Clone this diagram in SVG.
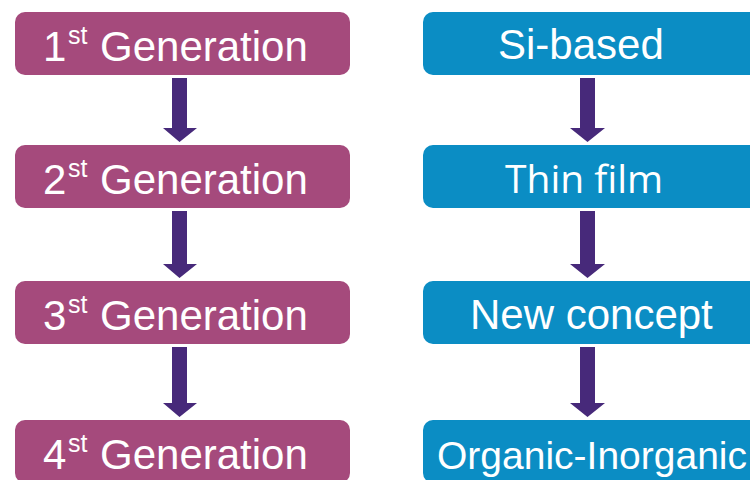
<svg xmlns="http://www.w3.org/2000/svg" width="750" height="480" viewBox="0 0 750 480">
<style>
.gen rect{fill:#A54A7C}
.tech rect{fill:#0B8DC4}
text{fill:#fff;font-family:"Liberation Sans",Arial,sans-serif;font-size:42px}
.sup{font-size:25px}
.arrow{fill:#47297A}
</style>
<rect width="750" height="480" fill="#fff"/>
<g id="gen1" class="gen"><rect x="15" y="12" width="335" height="63" rx="10"/><text><tspan x="43" y="61">1</tspan><tspan class="sup" x="68" y="44">st</tspan><tspan x="100" y="61">Generation</tspan></text></g>
<g id="gen2" class="gen"><rect x="15" y="145" width="335" height="63" rx="10"/><text><tspan x="43" y="194">2</tspan><tspan class="sup" x="68" y="177">st</tspan><tspan x="100" y="194">Generation</tspan></text></g>
<g id="gen3" class="gen"><rect x="15" y="281" width="335" height="63" rx="10"/><text><tspan x="43" y="330">3</tspan><tspan class="sup" x="68" y="313">st</tspan><tspan x="100" y="330">Generation</tspan></text></g>
<g id="gen4" class="gen"><rect x="15" y="420" width="335" height="63" rx="10"/><text><tspan x="43" y="469">4</tspan><tspan class="sup" x="68" y="452">st</tspan><tspan x="100" y="469">Generation</tspan></text></g>
<g id="si" class="tech"><rect x="423" y="12" width="340" height="63" rx="10"/><text x="498" y="59">Si-based</text></g>
<g id="thin" class="tech"><rect x="423" y="145" width="340" height="63" rx="10"/><text x="505" y="193" style="font-family:'Open Sans',sans-serif;font-size:39px">Thin film</text></g>
<g id="new" class="tech"><rect x="423" y="281" width="340" height="63" rx="10"/><text x="470" y="329">New concept</text></g>
<g id="org" class="tech"><rect x="423" y="420" width="340" height="63" rx="10"/><text x="437" y="469" style="font-size:39px">Organic-Inorganic</text></g>
<g id="connectors" class="arrow">
<polygon points="172,78 187,78 187,128 197,128 179.5,142 163,128 172,128"/>
<polygon points="172,211 187,211 187,264 197,264 179.5,278 163,264 172,264"/>
<polygon points="172,347 187,347 187,403 197,403 179.5,417 163,403 172,403"/>
<polygon points="580,78 595,78 595,128 605,128 587.5,142 570,128 580,128"/>
<polygon points="580,211 595,211 595,264 605,264 587.5,278 570,264 580,264"/>
<polygon points="580,347 595,347 595,403 605,403 587.5,417 570,403 580,403"/>
</g>
</svg>
